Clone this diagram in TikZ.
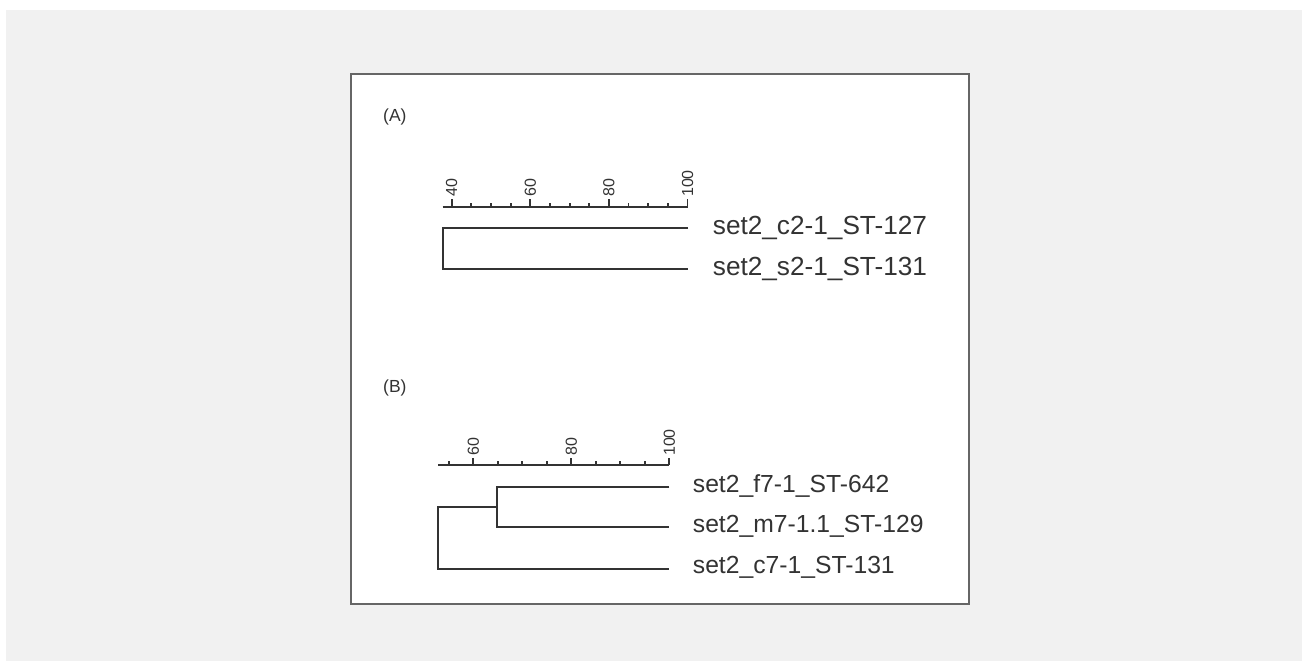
\documentclass[tikz,border=0pt]{standalone}
\usepackage{fontspec}
\setmainfont{Liberation Sans}
\definecolor{bggray}{HTML}{F1F1F1}
\definecolor{ink}{HTML}{333333}
\definecolor{frame}{HTML}{666666}
\tikzset{
  tree/.style={draw=ink, line width=1.8pt},
  axisline/.style={draw=ink, line width=1.8pt},
  ticklbl/.style={rotate=90, anchor=west, inner sep=0pt, text=ink, font=\fontsize{16}{16}\selectfont},
  leafA/.style={anchor=base west, inner sep=0pt, text=ink, font=\fontsize{26.2}{26}\selectfont},
  leafB/.style={anchor=base west, inner sep=0pt, text=ink, font=\fontsize{24.7}{25}\selectfont},
  paneltitle/.style={anchor=west, inner sep=0pt, text=ink, font=\fontsize{17.5}{17}\selectfont},
}
\begin{document}
\begin{tikzpicture}[x=1pt,y=-1pt]
\useasboundingbox (0,0) rectangle (1302,661);
\fill[white] (0,0) rectangle (1302,661);
\fill[bggray] (6,10) rectangle (1302,661);
\draw[draw=frame, line width=1.5pt, fill=white] (351,74) rectangle (969,604);

% ---------- Panel A ----------
\node[paneltitle] (tA) at (383,117) {(A)};
% axis: x(v) = 451.7 + (v-40)*3.93
\draw[axisline] (442.7,206.7) -- (688,206.7);
\foreach \v in {45,50,55,65,70,75,85,90,95}{
  \draw[axisline] ({451.7+(\v-40)*3.93},206.7) -- ++(0,-3.6);
}
\foreach \v in {40,60,80,100}{
  \draw[axisline] ({451.7+(\v-40)*3.93},206.7) -- ++(0,-7.3);
  \node[ticklbl] (a\v) at ({451.7+(\v-40)*3.93},197) {\v};
}
\coordinate (rA) at (442.7,248.8);
\coordinate (lc2) at (688,228.3);
\coordinate (ls2) at (688,269.3);
\draw[tree] (lc2) -| (rA) |- (ls2);
\node[leafA] (nc2) at (712.7,234) {set2\_c2-1\_ST-127};
\node[leafA] (ns2) at (712.7,275) {set2\_s2-1\_ST-131};

% ---------- Panel B ----------
\node[paneltitle] (tB) at (383,388) {(B)};
% axis: x(v) = 473.3 + (v-60)*4.9
\draw[axisline] (438.3,465.3) -- (669.3,465.3);
\foreach \v in {55,65,70,75,85,90,95}{
  \draw[axisline] ({473.3+(\v-60)*4.9},465.3) -- ++(0,-4);
}
\foreach \v in {60,80,100}{
  \draw[axisline] ({473.3+(\v-60)*4.9},465.3) -- ++(0,-7.6);
  \node[ticklbl] (b\v) at ({473.3+(\v-60)*4.9},456) {\v};
}
\coordinate (rB) at (438.3,538);
\coordinate (iB) at (497,507);
\coordinate (lf7) at (669.3,486.7);
\coordinate (lm7) at (669.3,527.3);
\coordinate (lc7) at (669.3,569.3);
\draw[tree] (lf7) -| (iB) |- (lm7);
\draw[tree] (iB) -| (rB) |- (lc7);
\node[leafB] (nf7) at (692.7,492.5) {set2\_f7-1\_ST-642};
\node[leafB] (nm7) at (692.7,532.7) {set2\_m7-1.1\_ST-129};
\node[leafB] (nc7) at (692.7,573.8) {set2\_c7-1\_ST-131};
\end{tikzpicture}
\end{document}
